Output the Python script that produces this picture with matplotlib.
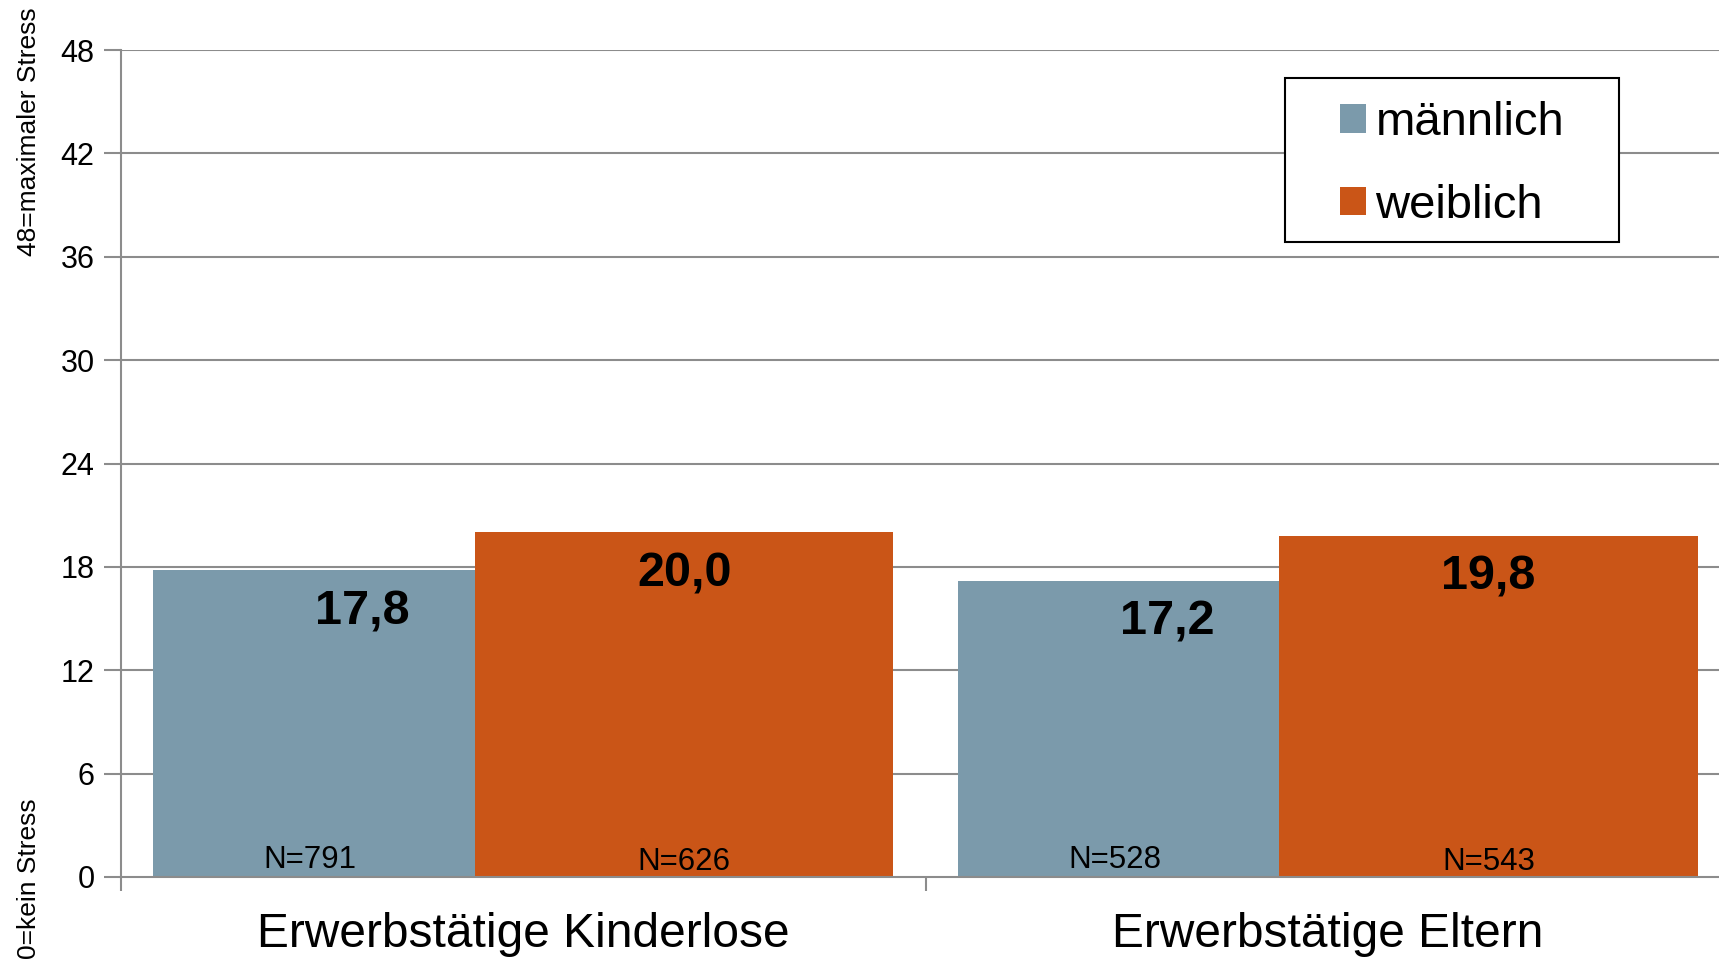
import matplotlib
matplotlib.use("Agg")
import matplotlib.pyplot as plt
import matplotlib.patches as mpatches
import numpy as np

# data
categories = ["Erwerbstätige Kinderlose", "Erwerbstätige Eltern"]
series = ["männlich", "weiblich"]
maennlich = [17.8, 17.2]
weiblich = [20.0, 19.8]
n_maennlich = ["N=791", "N=528"]
n_weiblich = ["N=626", "N=543"]
yticks = [0, 6, 12, 18, 24, 30, 36, 42, 48]

col_m = "#7b9aab"
col_w = "#ca5517"
grid_col = "#8c8c8c"

plt.rcParams['font.family'] = ['Liberation Sans', 'DejaVu Sans']

fig = plt.figure(figsize=(17.19, 9.59), dpi=100)
ax = fig.add_axes([121/1719, 82/959, (1730-121)/1719, 827/959])

x = np.arange(len(categories))
ax.bar(x + 0.04, maennlich, width=0.40, align='edge', color=col_m, label=series[0], zorder=2)
ax.bar(x + 0.44, weiblich, width=0.52, align='edge', color=col_w, label=series[1], zorder=2)

# value labels and N labels
for i in range(len(categories)):
    ax.text(x[i] + 0.30, maennlich[i] - 2.4, f"{maennlich[i]:.1f}".replace('.', ','),
            ha='center', va='center', fontsize=35, fontweight='bold', zorder=3)
    ax.text(x[i] + 0.70, weiblich[i] - 2.4, f"{weiblich[i]:.1f}".replace('.', ','),
            ha='center', va='center', fontsize=35, fontweight='bold', zorder=3)
    ax.text(x[i] + 0.235, 1.0, n_maennlich[i], ha='center', va='center', fontsize=22.5, zorder=3)
    ax.text(x[i] + 0.70, 0.85, n_weiblich[i], ha='center', va='center', fontsize=22.5, zorder=3)

ax.set_ylim(0, 48)
ax.set_xlim(0, 2)
ax.set_yticks(yticks)
ax.tick_params(axis='y', labelsize=22, length=12, width=1.5, color=grid_col, pad=7)
for yv in yticks[1:]:
    ax.axhline(yv, color=grid_col, lw=1.5, zorder=1)

ax.set_xticks(x + 0.5)
ax.set_xticklabels(categories, fontsize=34.5)
ax.tick_params(axis='x', length=0, pad=25)
ax.set_xticks([0, 1, 2], minor=True)
ax.tick_params(axis='x', which='minor', length=10, width=1.5, color=grid_col)

for s in ['top', 'right']:
    ax.spines[s].set_visible(False)
for s in ['left', 'bottom']:
    ax.spines[s].set_color(grid_col)
    ax.spines[s].set_linewidth(1.5)

# legend box drawn separately so the padding can match
ax.add_patch(mpatches.Rectangle((1285/1719, 1 - 242/959), 334/1719, 164/959,
                                transform=fig.transFigure, facecolor='white',
                                edgecolor='black', lw=1.5, zorder=4, clip_on=False))
leg = ax.legend(loc='upper left', bbox_to_anchor=(1340/1719, 1 - 101/959), bbox_transform=fig.transFigure,
                fontsize=34, frameon=False, handlelength=0.55, handleheight=0.55,
                handletextpad=0.2, labelspacing=0.82, borderpad=0, borderaxespad=0)
leg.set_zorder(5)

fig.text(0.017, 1 - 132/959, "48=maximaler Stress", rotation=90, ha='center', va='center', fontsize=19)
fig.text(0.017, 1 - 798/959, "0=kein Stress", rotation=90, ha='center', va='top', fontsize=19)

fig.savefig("out.png", dpi=100)
